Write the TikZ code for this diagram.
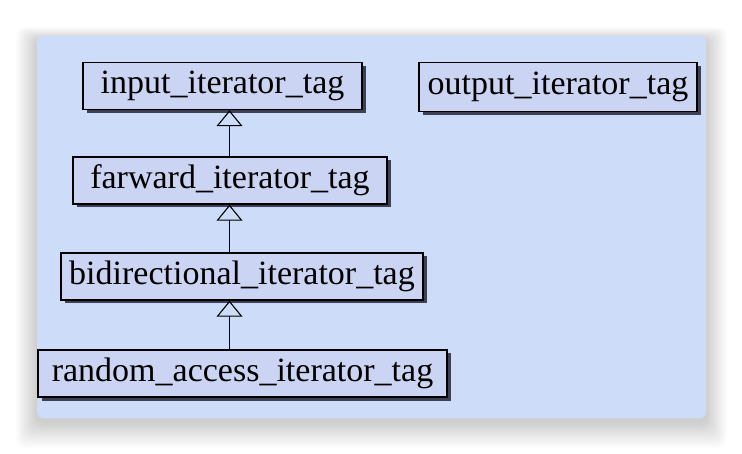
\documentclass[tikz,border=0pt]{standalone}
\usepackage{fontspec}
\setmainfont{Liberation Serif}
\usetikzlibrary{arrows.meta,shadows}
\definecolor{panel}{RGB}{205,221,249}
\definecolor{boxfill}{RGB}{203,212,242}
\definecolor{boxshadow}{RGB}{62,64,84}
\begin{document}
\begin{tikzpicture}[x=1pt,y=-1pt,
  tagbox/.style={draw=black, line width=1.4pt, fill=boxfill, inner sep=0pt,
    minimum height=47pt, text height=23pt, text depth=7pt,
    font=\fontsize{34}{40}\selectfont,
    general shadow={shadow xshift=3.5pt, shadow yshift=-3.5pt, fill=boxshadow}},
  inh/.style={line width=1.3pt, -{Triangle[open, length=16pt, width=26pt, line width=1.1pt]}}]
\useasboundingbox (0,0) rectangle (742,454);
\fill[white] (0,0) rectangle (742,454);
% panel soft shadow
\foreach \i in {1,...,16}{
  \fill[black, opacity=0.011, rounded corners=8pt]
    (37-1.3*\i, 36-0.8*\i+4) rectangle (706+1.3*\i, 418+1.6*\i+4);
}
\fill[panel, rounded corners=6pt] (37,36) rectangle (706,418);
% boxes
\node[tagbox, minimum width=279pt] (b1) at (222.5,86) {input\_iterator\_tag};
\node[tagbox, minimum width=314pt] (b2) at (230,180.5) {farward\_iterator\_tag};
\node[tagbox, minimum width=362pt] (b3) at (242,276.5) {bidirectional\_iterator\_tag};
\node[tagbox, minimum width=409pt] (b4) at (242.5,373.5) {random\_access\_iterator\_tag};
\node[tagbox, minimum width=278pt, minimum height=49pt] (out) at (558,87) {output\_iterator\_tag};
% inheritance arrows
\coordinate (ax) at (229.5,0);
\draw[inh] (b2.north -| ax) -- (b1.south -| ax);
\draw[inh] (b3.north -| ax) -- (b2.south -| ax);
\draw[inh] (b4.north -| ax) -- (b3.south -| ax);
\end{tikzpicture}
\end{document}
